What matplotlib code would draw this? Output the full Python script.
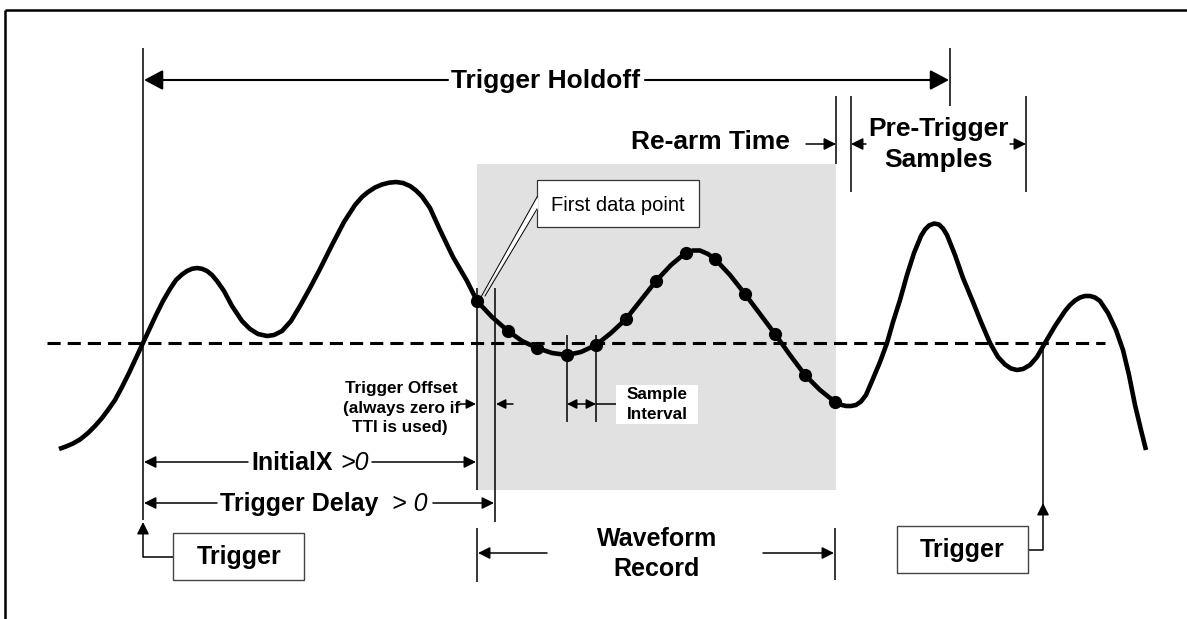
import matplotlib.pyplot as plt
from matplotlib.patches import Rectangle, Polygon

# waveform (pixel coords, y down)
wave_x = [59, 66, 73, 80, 88, 95, 102, 108, 115, 122, 129, 136, 143, 149, 156, 163, 170, 176, 182, 187,
          192, 197, 202, 207, 212, 217, 224, 232, 242, 250, 258, 267, 274, 282, 291, 300, 310, 320, 332, 344,
          355, 362, 368, 375, 382, 389, 396, 403, 410, 416, 422, 430, 440, 453, 467,
          477, 492, 508, 522, 537, 552, 567, 581, 596, 611, 626, 641, 656, 671, 680, 686, 693, 700, 708, 715,
          730, 745, 760, 775, 790, 805, 820, 835, 841, 846, 851, 856, 861, 866, 872, 880, 887, 893, 900, 907,
          914, 921, 925, 929, 934, 939, 943, 947, 955, 963, 973, 981, 990, 998, 1005, 1011, 1017, 1023, 1030,
          1037, 1045, 1055, 1065, 1070, 1075, 1080, 1085, 1090, 1095, 1100, 1108, 1116, 1123, 1129, 1135,
          1141, 1146]
wave_y = [449, 446.5, 443.5, 439.5, 433, 426, 418, 410, 400, 387, 373, 358, 343, 330, 315, 301, 289, 280, 274.5, 271,
          268.8, 268, 268.8, 271, 275, 281, 291, 306, 321, 329, 334, 336, 335, 331, 321, 306, 288, 269, 245, 222,
          205, 197, 192, 187.5, 184.5, 182.7, 182, 183, 186, 190.5, 196.5, 208, 230, 257, 281,
          301, 317, 331, 341, 348, 353, 355, 352, 345, 333, 319, 300, 281, 265, 257.5, 253, 250.5, 250.5, 254, 259,
          275, 294, 314, 334, 355, 375, 390, 402, 404.8, 406, 406, 405, 401.5, 395, 381, 362, 343, 322, 300, 275,
          253, 236, 229.5, 225.5, 223.5, 224.5, 228.5, 235, 255, 278, 302, 322, 343, 357, 364.5, 368.5, 370, 369, 365,
          357, 343, 326, 311, 305, 300.5, 297.5, 296, 296, 297.5, 301, 313, 330, 350, 375, 405,
          430, 450]

# record samples (dots)
sample_x = [477, 508, 537, 567, 596, 626, 656, 686, 715, 745, 775, 805, 835]
sample_y = [301, 331, 348, 355, 345, 319, 281, 253, 259, 294, 334, 375, 402]

trigger_level = 343

plt.rcParams['font.family'] = ['Liberation Sans', 'DejaVu Sans']

fig = plt.figure(figsize=(11.87, 6.19), dpi=100)
ax = fig.add_axes([0, 0, 1, 1])
ax.set_xlim(0, 1187)
ax.set_ylim(619, 0)
ax.axis('off')

K = 'black'
TH = 1.1  # thin line width


def vline(x, y0, y1, lw=TH):
    ax.plot([x, x], [y0, y1], color=K, lw=lw, solid_capstyle='butt', zorder=2)


def hline(y, x0, x1, lw=TH):
    ax.plot([x0, x1], [y, y], color=K, lw=lw, solid_capstyle='butt', zorder=2)


def arrow(x0, y0, x1, y1, hl=10, hw=5, lw=TH, style='-|>'):
    ax.annotate('', xy=(x1, y1), xytext=(x0, y0),
                arrowprops=dict(arrowstyle=f'{style},head_length={hl*0.72},head_width={hw*0.72}',
                                mutation_scale=1, lw=lw, color=K, shrinkA=0, shrinkB=0),
                zorder=2)


def label(x, y, s, size, weight='bold', ha='center', style='normal'):
    ax.text(x, y, s, fontsize=size, fontweight=weight, ha=ha, va='baseline',
            fontstyle=style, color=K, zorder=6)


# frame (top and left only, as in the picture)
ax.plot([5, 1187], [10, 10], color=K, lw=1.8, solid_capstyle='butt')
ax.plot([5, 5], [10, 619], color=K, lw=1.8, solid_capstyle='butt')

# waveform record area
ax.add_patch(Rectangle((477, 164), 359, 326, facecolor='#e1e1e1', edgecolor='none', zorder=0))

# trigger level
ax.plot([47, 1105], [trigger_level, trigger_level], color=K, lw=2.2,
        linestyle=(0, (4.3, 2.3)), zorder=1)

# waveform + samples
ax.plot(wave_x, wave_y, color=K, lw=3.3, solid_joinstyle='round', solid_capstyle='butt', zorder=3)
ax.plot(sample_x, sample_y, 'o', color=K, ms=8.5, zorder=4)

# Trigger Holdoff
vline(143, 48, 520)
vline(950, 48, 106)
arrow(448, 80, 144, 80, hl=16, hw=8.5, lw=1.5)
arrow(645, 80, 949, 80, hl=16, hw=8.5, lw=1.5)
label(546, 88, 'Trigger Holdoff', 19)

# Re-arm / Pre-trigger
vline(836, 96, 164)
vline(851, 96, 192)
vline(1026, 96, 192)
arrow(806, 144, 836, 144)
arrow(866, 144, 851, 144)
arrow(1010, 144, 1026, 144)
label(710, 149, 'Re-arm Time', 19)
label(938, 136, 'Pre-Trigger', 19)
label(938, 167, 'Samples', 19)

# first data point callout
ax.add_patch(Rectangle((537, 180), 162, 47, facecolor='white', edgecolor='#333333', lw=0.9, zorder=5))
ax.add_patch(Polygon([(538, 197), (482, 296), (538, 209)], closed=True, facecolor='white',
                     edgecolor='none', zorder=5))
ax.plot([537, 481], [197, 297], color=K, lw=0.7, zorder=5)
ax.plot([537, 485], [209, 296], color=K, lw=0.7, zorder=5)
label(618, 211, 'First data point', 14.5, weight='normal')

# trigger offset
vline(477, 288, 490)
vline(495, 288, 522)
arrow(460, 404, 476, 404, hl=8, hw=4)
arrow(513, 404, 496, 404, hl=8, hw=4)
label(401, 393, 'Trigger Offset', 12.3)
label(402, 413, '(always zero if', 12.3)
label(400, 432, 'TTI is used)', 12.3)

# sample interval
vline(567, 335, 422)
vline(596, 335, 422)
arrow(567, 404, 596, 404, hl=8, hw=4, style='<|-|>')
hline(404, 596, 616)
ax.add_patch(Rectangle((616, 385), 82, 39, facecolor='white', edgecolor='none', zorder=5))
label(657, 399, 'Sample', 12.3)
label(657, 419, 'Interval', 12.3)

# InitialX / Trigger Delay
arrow(248, 462, 144, 462)
arrow(372, 462, 476, 462)
label(251, 470, 'InitialX', 18, ha='left')
label(340, 470, '>0', 18, weight='normal', ha='left', style='italic')
arrow(217, 503, 144, 503)
arrow(433, 503, 494, 503)
label(220, 511, 'Trigger Delay', 18, ha='left')
label(392, 511, '> 0', 18, weight='normal', ha='left', style='italic')

# trigger boxes
ax.add_patch(Rectangle((173, 533), 131, 47, facecolor='white', edgecolor='#444444', lw=1, zorder=5))
hline(557, 143, 173)
arrow(143, 557, 143, 522)
label(239, 564, 'Trigger', 18)

ax.add_patch(Rectangle((897, 526), 131, 47, facecolor='white', edgecolor='#444444', lw=1, zorder=5))
hline(550, 1028, 1043)
vline(1043, trigger_level, 510)
arrow(1043, 550, 1043, 503)
label(962, 557, 'Trigger', 18)

# waveform record
vline(477, 528, 582)
vline(835, 528, 580)
arrow(547, 553, 478, 553)
arrow(763, 553, 834, 553)
label(657, 546, 'Waveform', 18)
label(657, 576, 'Record', 18)

fig.savefig('out.png', dpi=100, facecolor='white')
